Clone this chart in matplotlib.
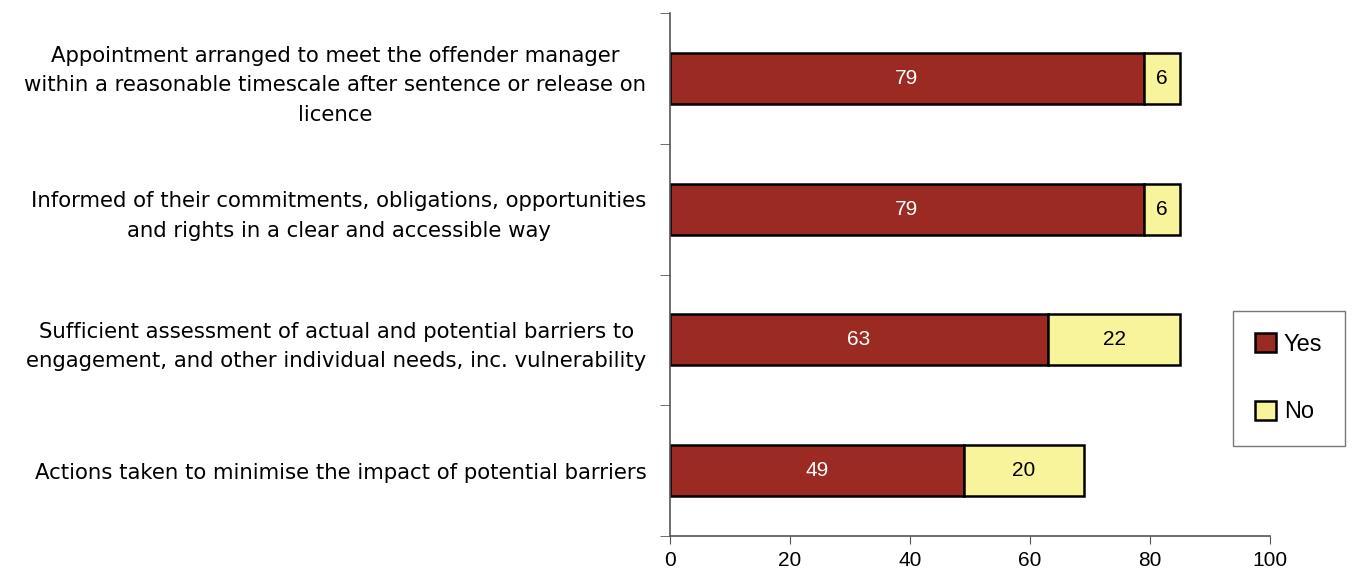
import numpy as np
import matplotlib.pyplot as plt

categories = [
    "Appointment arranged to meet the offender manager\nwithin a reasonable timescale after sentence or release on\nlicence",
    "Informed of their commitments, obligations, opportunities\nand rights in a clear and accessible way",
    "Sufficient assessment of actual and potential barriers to\nengagement, and other individual needs, inc. vulnerability",
    "Actions taken to minimise the impact of potential barriers",
]
yes = [79, 79, 63, 49]
no = [6, 6, 22, 20]

fig = plt.figure(figsize=(13.58, 5.77), dpi=100)
ax = fig.add_axes([670 / 1358, 1 - 536 / 577, 600 / 1358, 523 / 577])

y = np.arange(len(categories))
h = 0.39
b1 = ax.barh(y, yes, height=h, color="#9b2b22", edgecolor="black", linewidth=1.8, label="Yes")
b2 = ax.barh(y, no, left=yes, height=h, color="#f7f49b", edgecolor="black", linewidth=1.8, label="No")

for bar, v in zip(b1, yes):
    ax.text(bar.get_x() + bar.get_width() / 2, bar.get_y() + h / 2, str(v),
            ha="center", va="center", color="white", fontsize=15, family="Liberation Sans")
for bar, v in zip(b2, no):
    ax.text(bar.get_x() + bar.get_width() / 2, bar.get_y() + h / 2, str(v),
            ha="center", va="center", color="black", fontsize=15, family="Liberation Sans")

ax.set_xlim(0, 100)
ax.set_ylim(3.5, -0.5)
ax.set_xticks(range(0, 101, 20))
ax.tick_params(axis="x", length=6, color="#555555", labelsize=15, pad=5)
for t in ax.get_xticklabels():
    t.set_family("Liberation Sans")

ax.set_yticks(y)
ax.set_yticklabels(categories, fontsize=15.3)
for t in ax.get_yticklabels():
    t.set_multialignment("center")
    t.set_linespacing(1.6)
ax.tick_params(axis="y", which="major", length=0, pad=17)
ax.set_yticks(np.arange(-0.5, 4, 1), minor=True)
ax.tick_params(axis="y", which="minor", length=7, color="#555555")

for s in ["top", "right"]:
    ax.spines[s].set_visible(False)
for s in ["left", "bottom"]:
    ax.spines[s].set_color("#555555")
    ax.spines[s].set_linewidth(1.2)

leg = fig.legend(handles=[b1, b2], loc="upper left",
                 bbox_to_anchor=(1233 / 1358, 1 - 311 / 577),
                 prop={"family": "Liberation Sans", "size": 17},
                 frameon=True, fancybox=False, edgecolor="#555555",
                 handlelength=0.85, handleheight=0.85, labelspacing=1.9,
                 borderpad=0.95, handletextpad=0.35, borderaxespad=0)
leg.get_frame().set_linewidth(1.0)

fig.savefig("out.png", dpi=100)
